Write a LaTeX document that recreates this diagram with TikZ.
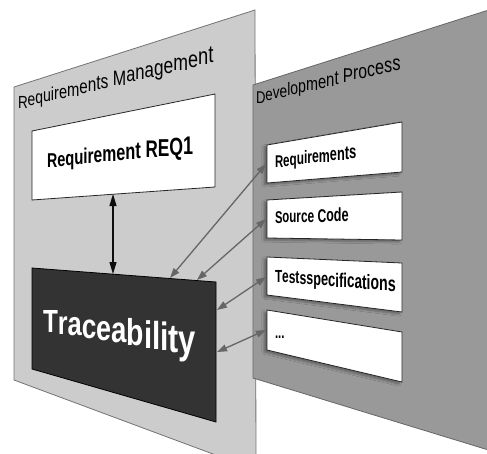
\documentclass[tikz,border=0pt]{standalone}
\usepackage{fontspec}
\setmainfont{Liberation Sans}
\usetikzlibrary{arrows.meta,shadows.blur}

% \layprep[opts]{name}{x}{y}{slope}{xscale}{growth}{font}{text}
% lays a text onto a receding plane: glyphs stay upright, the baseline
% climbs by <slope> per unit and glyphs grow by <growth> per unit.
% Widths are measured here, outside the picture; \laydraw places the glyphs.
\ExplSyntaxOn
\dim_new:N \l_lay_pos_dim
\box_new:N \l_lay_char_box
\int_new:N \l_lay_char_int
\tl_new:N \l_lay_x_tl
\tl_new:N \l_lay_y_tl
\tl_new:N \l_lay_f_tl
\tl_new:N \l_lay_s_tl
\tl_new:N \g_lay_nodes_tl
\NewDocumentCommand \layprep { O{} m m m m m m m m }
 {
  \dim_zero:N \l_lay_pos_dim
  \int_zero:N \l_lay_char_int
  \str_map_inline:nn {#9}
   {
    \int_incr:N \l_lay_char_int
    \tl_set:Nx \l_lay_f_tl { \fp_eval:n { 1 + #7 * \dim_to_fp:n { \l_lay_pos_dim } } }
    \tl_set:Nx \l_lay_s_tl { \fp_eval:n { #6 * \l_lay_f_tl } }
    \tl_set:Nx \l_lay_x_tl { \fp_eval:n { #3 + \dim_to_fp:n { \l_lay_pos_dim } } }
    \tl_set:Nx \l_lay_y_tl { \fp_eval:n { #4 - #5 * \dim_to_fp:n { \l_lay_pos_dim } } }
    \hbox_set:Nn \l_lay_char_box { #8 ##1 }
    \tl_gput_right:Nx \g_lay_nodes_tl
     {
      \exp_not:N \node [ anchor=base~west, inner~sep=0pt, outer~sep=0pt,
         xscale=\l_lay_s_tl, yscale=\l_lay_f_tl,
         name=#2-\int_use:N \l_lay_char_int, \exp_not:n {#1} ]
       ~at~ (\l_lay_x_tl, \l_lay_y_tl) { \exp_not:n {#8} \exp_not:n {##1} } ;
     }
    \dim_add:Nn \l_lay_pos_dim { \l_lay_s_tl \box_wd:N \l_lay_char_box }
   }
 }
\NewDocumentCommand \laydraw { } { \tl_use:N \g_lay_nodes_tl }
\ExplSyntaxOff

\tikzset{
  panelA/.style={fill=black!20, draw=black!55, line width=0.8pt},
  panelB/.style={fill=black!40, draw=black!60, line width=0.8pt},
  whitebox/.style={fill=white, draw=black!85, line width=0.8pt},
  darkbox/.style={fill=black!80, draw=black, line width=0.8pt},
  boxshadow/.style={blur shadow={shadow xshift=-3pt, shadow yshift=-2pt,
      shadow blur steps=6, shadow opacity=35}},
  linkarrow/.style={draw=black!60, line width=1.3pt,
      {Triangle[length=10pt,width=7pt]}-{Triangle[length=10pt,width=7pt]}},
  mainarrow/.style={draw=black!95, line width=1.2pt,
      {Triangle[length=12pt,width=7pt]}-{Triangle[length=12pt,width=7pt]}}
}

\begin{document}
% texts of the two planes
\layprep{rmtitle}{18}{108}{0.24}{0.77}{0.002}{\fontsize{17.5}{17.5}\selectfont}{Requirements Management}
\layprep{dptitle}{256}{103}{0.24}{0.77}{0.002}{\fontsize{17}{17}\selectfont}{Development Process}
\layprep{req1}{47}{167}{0.095}{0.71}{0.002}{\bfseries\fontsize{20}{20}\selectfont}{Requirement REQ1}
\layprep[text=white]{trace}{43}{332}{-0.16}{0.76}{0.002}{\bfseries\fontsize{32}{32}\selectfont}{Traceability}
\layprep{dreq}{275}{167}{0.11}{0.67}{0.002}{\bfseries\fontsize{17}{17}\selectfont}{Requirements}
\layprep{dsrc}{275}{223}{0.02}{0.66}{0.002}{\bfseries\fontsize{17}{17}\selectfont}{Source Code}
\layprep{dtest}{275}{282}{-0.083}{0.67}{0.002}{\bfseries\fontsize{17.5}{17.5}\selectfont}{Testsspecifications}
\layprep{dmore}{275}{338}{-0.13}{0.67}{0.002}{\bfseries\fontsize{17}{17}\selectfont}{...}
\begin{tikzpicture}[x=1pt, y=-1pt]
  \useasboundingbox (0,0) rectangle (487,453);
  \clip (0,0) rectangle (487,453);
  \fill[white] (0,0) rectangle (487,453);

  % Requirements Management plane
  \draw[panelA] (14,87) -- (255,10) -- (256,470) -- (14,380) -- cycle;
  % Development Process plane
  \draw[panelB] (253,85) -- (495,8) -- (495,452) -- (253,378) -- cycle;

  % requirement box
  \draw[whitebox] (32,131) -- (215,94) -- (215,187) -- (32,200) -- cycle;
  \coordinate (req1-s) at (113,194);

  % traceability box
  \draw[darkbox] (32,268) -- (216,282) -- (216,422) -- (32,369) -- cycle;
  \coordinate (trace-n) at (113,274);
  \coordinate (trace-n1) at (170,278);
  \coordinate (trace-n2) at (197,280);
  \coordinate (trace-e1) at (217,310);
  \coordinate (trace-e2) at (217,352);

  % development artefact boxes
  \draw[whitebox, boxshadow] (267,145) -- (402,122) -- (402,172) -- (267,183) -- cycle;
  \coordinate (dreq-w) at (266,164);
  \draw[whitebox, boxshadow] (267,200) -- (402,192) -- (402,240) -- (267,238) -- cycle;
  \coordinate (dsrc-w) at (266,219);
  \draw[whitebox, boxshadow] (267,257) -- (402,263) -- (402,312) -- (267,295) -- cycle;
  \coordinate (dtest-w) at (266,277);
  \draw[whitebox, boxshadow] (267,310) -- (402,332) -- (402,382) -- (267,350) -- cycle;
  \coordinate (dmore-w) at (266,330);

  % all labels
  \laydraw

  % connectors
  \draw[mainarrow] (req1-s) -- (trace-n);
  \draw[linkarrow] (trace-n1) -- (dreq-w);
  \draw[linkarrow] (trace-n2) -- (dsrc-w);
  \draw[linkarrow] (trace-e1) -- (dtest-w);
  \draw[linkarrow] (trace-e2) -- (dmore-w);
\end{tikzpicture}
\end{document}
